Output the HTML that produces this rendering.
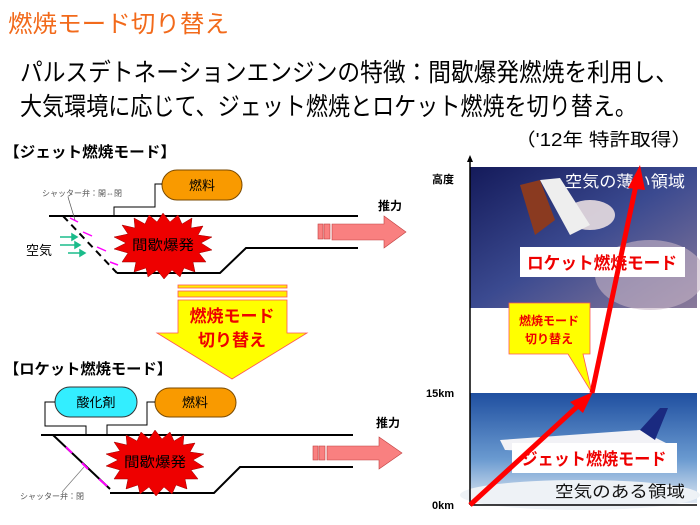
<!DOCTYPE html>
<html><head><meta charset="utf-8"><style>
html,body{margin:0;padding:0;background:#fff;}
svg{display:block;font-family:"Liberation Sans","Noto Sans CJK JP",sans-serif;}
</style></head><body>
<svg width="700" height="525" viewBox="0 0 700 525" xmlns="http://www.w3.org/2000/svg">
<defs>
<linearGradient id="sky1" x1="0" y1="0" x2="1" y2="1">
<stop offset="0" stop-color="#141a5a"/><stop offset="0.5" stop-color="#3b4a90"/><stop offset="1" stop-color="#8a7a9a"/>
</linearGradient>
<linearGradient id="sky2" x1="0" y1="0" x2="0" y2="1">
<stop offset="0" stop-color="#1f4fa0"/><stop offset="0.6" stop-color="#6a9ad0"/><stop offset="1" stop-color="#dfe8f2"/>
</linearGradient>
</defs>
<text x="8" y="32" font-size="24" fill="#f26a1b" textLength="221" lengthAdjust="spacingAndGlyphs">燃焼モード切り替え</text>
<text x="20" y="81" font-size="25" fill="#000" textLength="658" lengthAdjust="spacingAndGlyphs">パルスデトネーションエンジンの特徴：間歇爆発燃焼を利用し、</text>
<text x="20" y="115" font-size="25" fill="#000" textLength="617" lengthAdjust="spacingAndGlyphs">大気環境に応じて、ジェット燃焼とロケット燃焼を切り替え。</text>
<text x="515" y="146" font-size="18" fill="#000" textLength="177" lengthAdjust="spacingAndGlyphs">（'12年 特許取得）</text>

<!-- Jet mode -->
<text x="4" y="157" font-size="15" font-weight="bold" textLength="172" lengthAdjust="spacingAndGlyphs">【ジェット燃焼モード】</text>
<rect x="162" y="170" width="80" height="30" rx="15" fill="#f99a00" stroke="#7a4a00" stroke-width="1"/>
<text x="202" y="190" font-size="13" text-anchor="middle">燃料</text>
<polyline points="114,216 114,207 155,207 155,184 162,184" fill="none" stroke="#000" stroke-width="1"/>
<line x1="49" y1="216" x2="358" y2="216" stroke="#000" stroke-width="2"/>
<polyline points="117,273 220,273 246,248 358,248" fill="none" stroke="#000" stroke-width="2"/>
<line x1="63" y1="216" x2="117" y2="273" stroke="#000" stroke-width="2" stroke-dasharray="7,5"/>
<line x1="70" y1="218" x2="78" y2="222" stroke="#f0f" stroke-width="1.5"/>
<line x1="83" y1="232" x2="92" y2="236" stroke="#f0f" stroke-width="1.5"/>
<line x1="97" y1="247" x2="106" y2="251" stroke="#f0f" stroke-width="1.5"/>
<line x1="110" y1="262" x2="118" y2="265" stroke="#f0f" stroke-width="1.5"/>
<text x="42" y="196" font-size="8" fill="#555">シャッター弁：開⇔閉</text>
<line x1="68" y1="197" x2="75" y2="220" stroke="#555" stroke-width="0.7"/>
<text x="26" y="255" font-size="13">空気</text>
<g stroke="#1abc8a" stroke-width="1.5" fill="#1abc8a">
<line x1="60" y1="237" x2="72" y2="237"/><polygon points="72,234 77,237 72,240"/>
<line x1="60" y1="245" x2="75" y2="245"/><polygon points="75,242 80,245 75,248"/>
<line x1="68" y1="253" x2="80" y2="253"/><polygon points="80,250 85,253 80,256"/>
</g>
<polygon id="boom" fill="#ee0000" stroke="#900" stroke-width="0.5" points="163,213 170,222 178,215 182,224 192,218 191,228 203,226 198,235 212,237 201,243 212,250 199,253 206,262 193,262 195,272 184,268 180,277 172,270 164,279 157,270 148,277 146,268 134,272 136,262 122,262 128,253 114,249 126,243 114,237 128,234 122,225 135,228 134,218 145,224 149,215 157,222"/>
<text x="163" y="250" font-size="14" text-anchor="middle" textLength="62" lengthAdjust="spacingAndGlyphs">間歇爆発</text>
<rect x="318" y="224" width="5" height="15" fill="#f98080" stroke="#c04040" stroke-width="0.6"/>
<rect x="324" y="224" width="6" height="15" fill="#f98080" stroke="#c04040" stroke-width="0.6"/>
<polygon points="332,224 384,224 384,216 406,232 384,248 384,240 332,240" fill="#f98080" stroke="#c04040" stroke-width="0.6"/>
<text x="378" y="210" font-size="12" font-weight="bold">推力</text>

<!-- switch arrow -->
<rect x="178" y="285" width="109" height="3" fill="#ffee00" stroke="#f55" stroke-width="0.8"/>
<rect x="178" y="291" width="109" height="6" fill="#ffee00" stroke="#f55" stroke-width="0.8"/>
<polygon points="178,300 287,300 287,333 307,333 232,379 157,333 178,333" fill="#ffff00" stroke="#f55" stroke-width="0.8"/>
<text x="232" y="322" font-size="17" font-weight="bold" fill="#e00" text-anchor="middle">燃焼モード</text>
<text x="232" y="346" font-size="17" font-weight="bold" fill="#e00" text-anchor="middle">切り替え</text>

<!-- Rocket mode -->
<text x="4" y="374" font-size="15" font-weight="bold" textLength="168" lengthAdjust="spacingAndGlyphs">【ロケット燃焼モード】</text>
<rect x="55" y="387" width="82" height="30" rx="15" fill="#33eeff" stroke="#333" stroke-width="1"/>
<text x="96" y="407" font-size="13" text-anchor="middle">酸化剤</text>
<rect x="155" y="388" width="81" height="29" rx="14.5" fill="#f99a00" stroke="#7a4a00" stroke-width="1"/>
<text x="195" y="407" font-size="13" text-anchor="middle">燃料</text>
<polyline points="55,402 45,402 45,426 86,426 86,435" fill="none" stroke="#000" stroke-width="1"/>
<polyline points="155,402 147,402 147,425 107,425 107,435" fill="none" stroke="#000" stroke-width="1"/>
<line x1="41" y1="435" x2="353" y2="435" stroke="#000" stroke-width="2"/>
<polyline points="110,493 214,493 240,467 353,467" fill="none" stroke="#000" stroke-width="2"/>
<line x1="53" y1="435" x2="110" y2="489" stroke="#000" stroke-width="2"/>
<line x1="66" y1="447" x2="72" y2="453" stroke="#f0f" stroke-width="2"/>
<line x1="82" y1="463" x2="88" y2="469" stroke="#f0f" stroke-width="2"/>
<line x1="99" y1="479" x2="107" y2="486" stroke="#f0f" stroke-width="2"/>
<line x1="84" y1="467" x2="62" y2="492" stroke="#777" stroke-width="0.7"/>
<text x="20" y="499" font-size="8" fill="#555">シャッター弁：閉</text>
<use href="#boom" transform="translate(-8,217)"/>
<text x="155" y="467" font-size="14" text-anchor="middle" textLength="62" lengthAdjust="spacingAndGlyphs">間歇爆発</text>
<rect x="313" y="446" width="5" height="14" fill="#f98080" stroke="#c04040" stroke-width="0.6"/>
<rect x="319" y="446" width="6" height="14" fill="#f98080" stroke="#c04040" stroke-width="0.6"/>
<polygon points="327,446 379,446 379,437 402,453 379,469 379,460 327,460" fill="#f98080" stroke="#c04040" stroke-width="0.6"/>
<text x="376" y="427" font-size="12" font-weight="bold">推力</text>

<!-- Right panel -->
<rect x="470" y="167" width="227" height="141" fill="url(#sky1)"/>
<ellipse cx="650" cy="275" rx="55" ry="35" fill="#c8b6c6" opacity="0.6"/>
<ellipse cx="590" cy="215" rx="25" ry="15" fill="#e8dde0" opacity="0.9"/>
<polygon points="520,185 540,180 555,220 535,235" fill="#8a3a20"/>
<polygon points="540,180 560,178 590,225 570,235" fill="#eee"/>
<rect x="470" y="393" width="227" height="110" fill="url(#sky2)"/>
<ellipse cx="580" cy="495" rx="120" ry="15" fill="#eef2f6"/>
<polygon points="500,440 640,430 670,445 650,455 505,450" fill="#f2f2f6"/>
<polygon points="640,430 660,408 668,408 655,440" fill="#1a2a80"/>
<text x="565" y="187" font-size="16" fill="#fff" textLength="120" lengthAdjust="spacingAndGlyphs">空気の薄い領域</text>
<text x="555" y="497" font-size="16" fill="#111" textLength="130" lengthAdjust="spacingAndGlyphs">空気のある領域</text>
<line x1="470" y1="157" x2="470" y2="505" stroke="#000" stroke-width="1.5"/>
<polygon points="467,162 470,155 473,162" fill="#000"/>
<line x1="470" y1="505" x2="697" y2="505" stroke="#000" stroke-width="1.5"/>
<text x="432" y="183" font-size="11" font-weight="bold">高度</text>
<text x="426" y="397" font-size="11" font-weight="bold">15km</text>
<text x="432" y="509" font-size="11" font-weight="bold">0km</text>
<rect x="520" y="247" width="165" height="30" fill="#fff"/>
<text x="602" y="269" font-size="17" font-weight="bold" fill="#e00" text-anchor="middle" textLength="150" lengthAdjust="spacingAndGlyphs">ロケット燃焼モード</text>
<rect x="512" y="443" width="165" height="30" fill="#fff"/>
<text x="594" y="465" font-size="17" font-weight="bold" fill="#e00" text-anchor="middle" textLength="145" lengthAdjust="spacingAndGlyphs">ジェット燃焼モード</text>
<polygon points="509,303 590,303 590,354 583,354 592,393 568,354 509,354" fill="#ffff00" stroke="#f55" stroke-width="0.8"/>
<text x="549" y="325" font-size="12" font-weight="bold" fill="#e00" text-anchor="middle">燃焼モード</text>
<text x="549" y="343" font-size="12" font-weight="bold" fill="#e00" text-anchor="middle">切り替え</text>
<g stroke="#ff0000" stroke-width="5" fill="#ff0000">
<line x1="470" y1="505" x2="580" y2="404"/>
<line x1="592" y1="393" x2="636" y2="185"/>
</g>
<polygon points="570,402 593,392 583,413" fill="#ff0000"/>
<polygon points="628,188 640,165 645,190" fill="#ff0000"/>
</svg>
</body></html>
